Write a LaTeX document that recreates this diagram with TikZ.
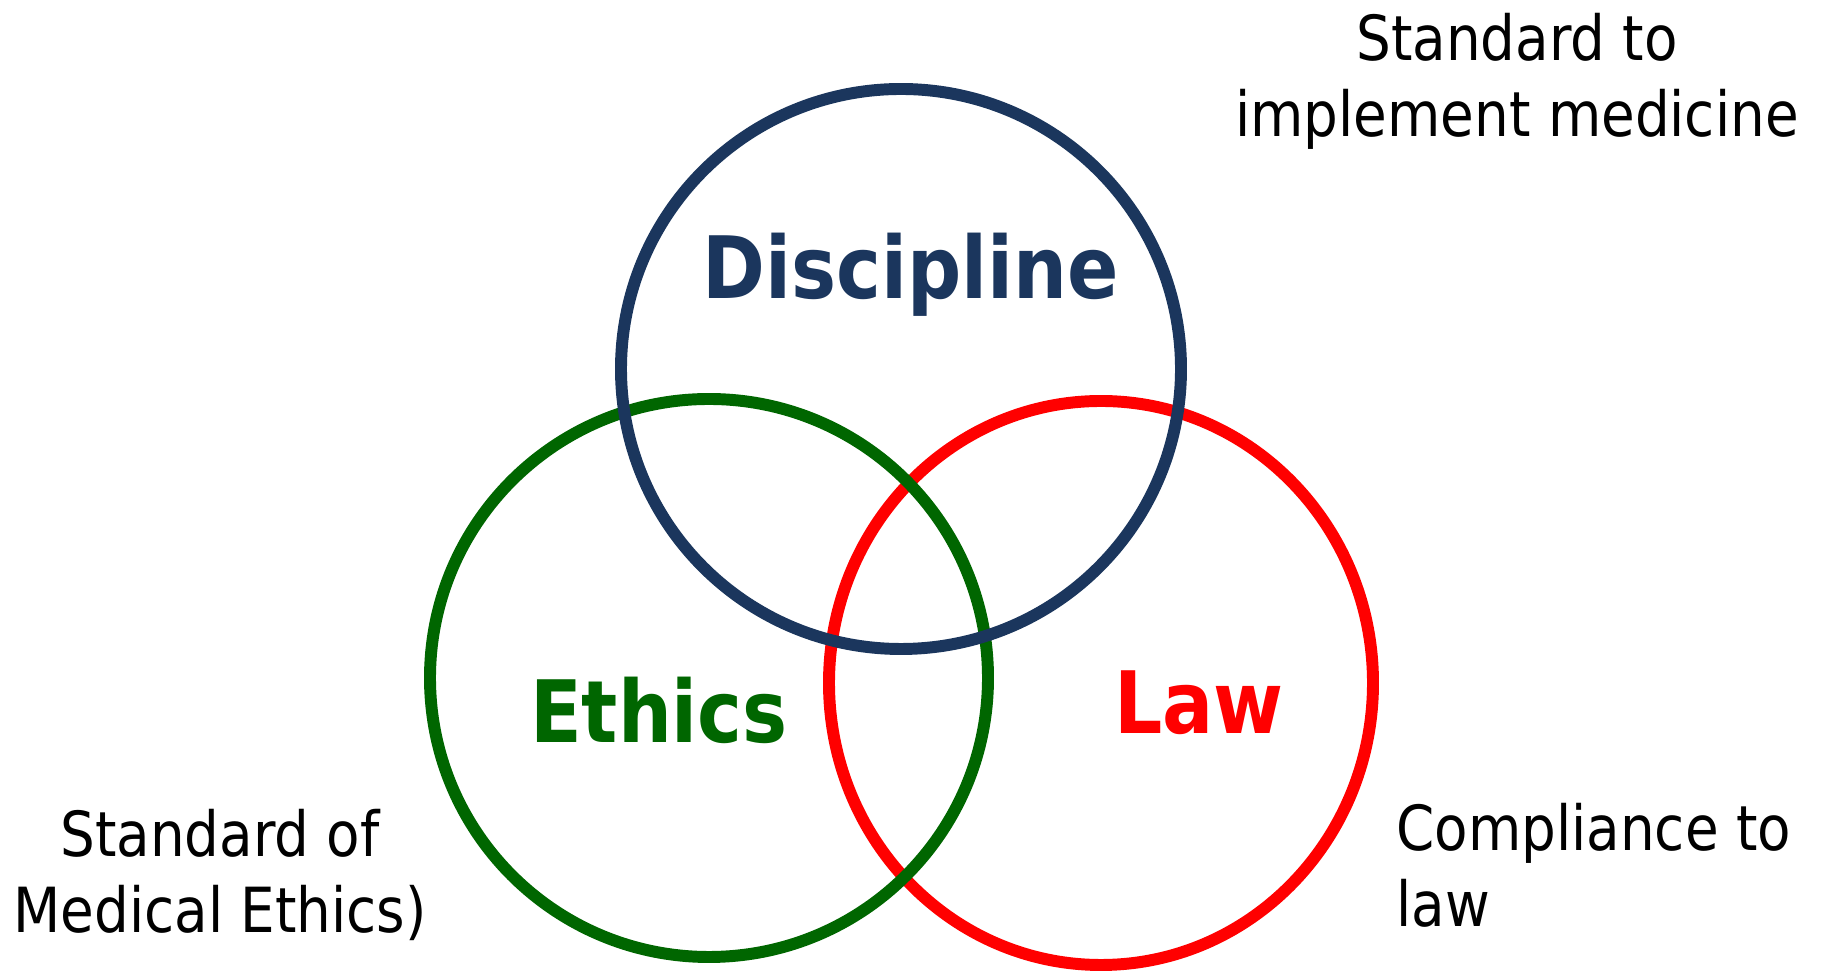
\documentclass[tikz,border=0pt]{standalone}
\usepackage{fontspec}
\setmainfont{DejaVu Sans}[FakeStretch=0.88]
\usetikzlibrary{shapes.geometric}
\definecolor{discNavy}{RGB}{27,54,93}
\definecolor{ethGreen}{RGB}{0,102,0}
\definecolor{lawRed}{RGB}{255,0,0}

\begin{document}
\begin{tikzpicture}[%
    set/.style={%
        draw,
        ellipse,
        line width=3.4pt,
        inner sep=0pt
    },
    setname/.style={%
        anchor=base,
        font=\bfseries\fontsize{24.5}{29}\selectfont
    },
    note/.style={%
        anchor=base,
        align=center,
        font=\fontsize{17.7}{21.9}\selectfont
    }
]
\useasboundingbox (0,0) rectangle (18.21,-9.77);

% Sets
    \node[set, draw=lawRed, minimum width=5.44cm, minimum height=5.64cm] (law) at (11.01,-6.83) {};
    \node[set, draw=ethGreen, minimum width=5.58cm, minimum height=5.58cm] (ethics) at (7.09,-6.78) {};
    \node[set, draw=discNavy, minimum width=5.60cm, minimum height=5.60cm] (discipline) at (9.01,-3.69) {};

% Set names
    \node[setname, text=discNavy] (disciplineName) at (9.11,-2.985) {Discipline};
    \node[setname, text=ethGreen] (ethicsName) at (6.59,-7.43) {Ethics};
    \node[setname, text=lawRed] (lawName) at (11.99,-7.34) {Law};

% Notes (base = last line)
    \node[note] (disciplineNote) at (15.17,-1.37) {Standard to\\implement medicine};
    \node[note] (ethicsNote) at (2.20,-9.33) {Standard of\\Medical Ethics)};
    \node[note, anchor=base west, align=left] (lawNote) at (13.84,-9.27) {Compliance to\\law};

\end{tikzpicture}
\end{document}
